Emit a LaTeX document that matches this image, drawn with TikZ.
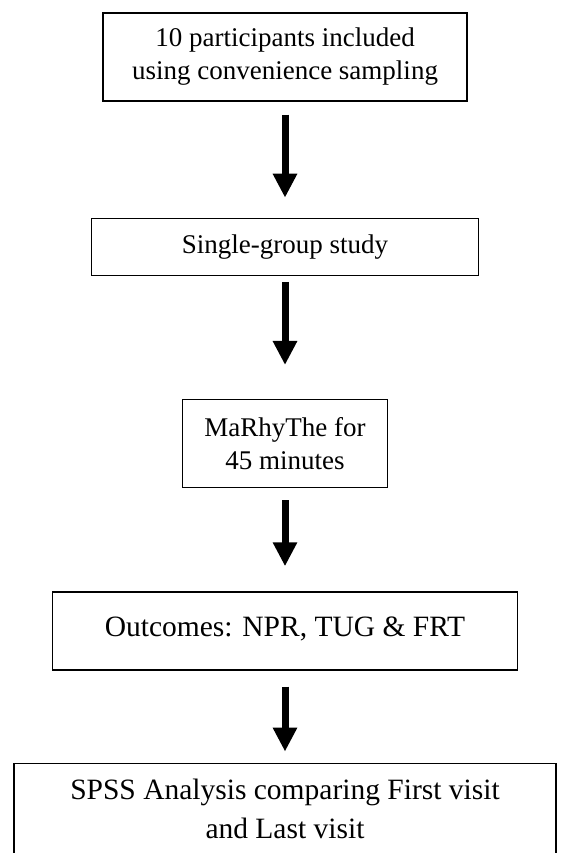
\documentclass[tikz,border=0pt]{standalone}
\usepackage{fontspec}
\setmainfont{Liberation Serif}
\usetikzlibrary{arrows.meta,positioning}
\tikzset{
  flowbox/.style={draw, line width=1.3pt, align=center, inner sep=0pt,
                  font=\fontsize{27pt}{33pt}\selectfont},
  bigbox/.style={flowbox, font=\fontsize{29.5pt}{39pt}\selectfont},
  downarrow/.style={line width=7pt, -{Triangle[width=23pt,length=24pt]}},
}

\begin{document}
\begin{tikzpicture}
\useasboundingbox (0,0) rectangle (560pt,-853pt);

% --- Study steps ---
\node[flowbox, minimum width=364pt, minimum height=88pt]
      (sample) at (285pt,-57pt) {10 participants included\\using convenience sampling};
\node[flowbox, minimum width=387pt, minimum height=57pt, below=116pt of sample]
      (design) {Single-group study};
\node[flowbox, minimum width=205pt, minimum height=88pt, below=123pt of design]
      (therapy) {MaRhyThe for\\45 minutes};
\node[bigbox, minimum width=465pt, text height=45pt, text depth=33pt, below=103pt of therapy]
      (outcomes) {Outcomes: NPR, TUG \& FRT};
\node[bigbox, minimum width=542pt, minimum height=92pt, below=92pt of outcomes]
      (analysis) {SPSS Analysis comparing First visit\\and Last visit};

% --- Arrows between steps ---
\draw[downarrow, shorten <=13pt, shorten >=20pt] (sample) -- (design);
\draw[downarrow, shorten <=6pt, shorten >=34pt] (design) -- (therapy);
\draw[downarrow, shorten <=12pt, shorten >=25pt] (therapy) -- (outcomes);
\draw[downarrow, shorten <=16pt, shorten >=11pt] (outcomes) -- (analysis);

\end{tikzpicture}
\end{document}
